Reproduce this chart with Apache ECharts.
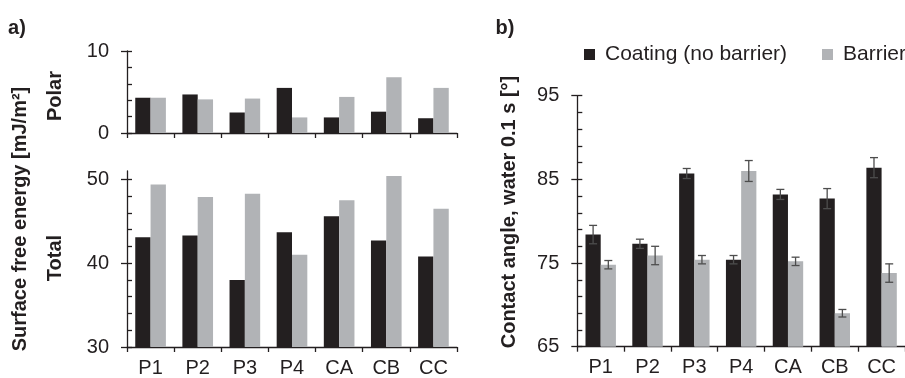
<!DOCTYPE html>
<html>
<head>
<meta charset="utf-8">
<script src="https://cdn.jsdelivr.net/npm/echarts@6/dist/echarts.min.js"></script>
<style>
  html, body { margin: 0; padding: 0; background: #fff; }
  #chart { width: 905px; height: 378px; }
</style>
</head>
<body>
<div id="chart"></div>
<script>
(function () {
    'use strict';

    // data
    var categories = ['P1', 'P2', 'P3', 'P4', 'CA', 'CB', 'CC'];
    var polarCoating = [4.3, 4.7, 2.5, 5.5, 1.9, 2.6, 1.8];
    var polarBarrier = [4.3, 4.1, 4.2, 1.9, 4.4, 6.8, 5.5];
    var totalCoating = [43.1, 43.3, 38.0, 43.7, 45.6, 42.7, 40.8];
    var totalBarrier = [49.4, 47.9, 48.3, 41.0, 47.5, 50.4, 46.5];
    var angleCoating = [78.4, 77.3, 85.7, 75.4, 83.2, 82.7, 86.4];
    var angleBarrier = [74.8, 75.9, 75.4, 86.0, 75.2, 69.0, 73.8];
    var angleCoatingErr = [1.1, 0.55, 0.6, 0.5, 0.6, 1.2, 1.2];
    var angleBarrierErr = [0.5, 1.1, 0.5, 1.25, 0.5, 0.45, 1.1];

    var polarTicks = [0, 10];
    var totalTicks = [30, 40, 50];
    var angleTicks = [65, 75, 85, 95];

    var names = ['Coating (no barrier)', 'Barrier'];
    var dark = '#231f20';
    var grey = '#b1b3b6';
    var font = "'Liberation Sans', Arial, sans-serif";

    function every(a, b, step) {
        var out = [];
        for (var v = a; v <= b + 1e-9; v += step) out.push(v);
        return out;
    }

    var grids = [
        { left: 127, top: 51, width: 330, height: 82 },
        { left: 127, top: 171, width: 330, height: 176.8 },
        { left: 577.3, top: 95.7, width: 330.6, height: 251 }
    ];

    var xAxes = [], yAxes = [];
    [0, 1, 2].forEach(function (g) {
        xAxes.push({
            type: 'category', gridIndex: g, data: categories,
            axisLine: { lineStyle: { color: dark, width: 1.3 } },
            axisTick: { show: true, interval: 0, length: 5, lineStyle: { color: dark, width: 1.3 } },
            axisLabel: { show: g !== 0, interval: 0, margin: 11, fontSize: 20, color: dark, fontFamily: font }
        });
    });

    var yRanges = [[0, 10, polarTicks], [30, 51, totalTicks], [65, 95, angleTicks]];
    yRanges.forEach(function (r, g) {
        // labelled axis with outside ticks
        yAxes.push({
            type: 'value', gridIndex: g, min: r[0], max: r[1],
            splitLine: { show: false },
            axisLine: { show: true, lineStyle: { color: dark, width: 1.3 } },
            axisTick: { show: true, length: 6, customValues: r[2], lineStyle: { color: dark, width: 1.3 } },
            axisLabel: { margin: 18, fontSize: 20, color: dark, fontFamily: font, customValues: r[2] }
        });
        // overlay for the inside minor ticks
        yAxes.push({
            type: 'value', gridIndex: g, min: r[0], max: r[1], position: 'left',
            splitLine: { show: false },
            axisLine: { show: false },
            axisTick: { show: true, inside: true, length: 5, customValues: every(r[0], r[2][r[2].length - 1], 2), lineStyle: { color: dark, width: 1.3 } },
            axisLabel: { show: false }
        });
    });

    function bar(name, g, data, color) {
        return {
            type: 'bar', name: name, xAxisIndex: g, yAxisIndex: g * 2, data: data,
            barGap: '0%', barCategoryGap: '35%',
            itemStyle: { color: color }, silent: true
        };
    }

    function errData(vals, errs) {
        return vals.map(function (v, i) { return [i, v - errs[i], v + errs[i]]; });
    }

    function errSeries(vals, errs, side) {
        return {
            type: 'custom', xAxisIndex: 2, yAxisIndex: 4, z: 5, silent: true,
            data: errData(vals, errs),
            renderItem: function (params, api) {
                var i = api.value(0);
                var hi = api.coord([i, api.value(2)]);
                var lo = api.coord([i, api.value(1)]);
                var bw = api.size([1, 0])[0];
                var x = hi[0] + side * bw * 0.65 / 4;
                var cap = 4;
                var st = { stroke: '#4d4d4d', lineWidth: 1.3 };
                return {
                    type: 'group',
                    children: [
                        { type: 'line', shape: { x1: x, y1: hi[1], x2: x, y2: lo[1] }, style: st },
                        { type: 'line', shape: { x1: x - cap, y1: hi[1], x2: x + cap, y2: hi[1] }, style: st },
                        { type: 'line', shape: { x1: x - cap, y1: lo[1], x2: x + cap, y2: lo[1] }, style: st }
                    ]
                };
            }
        };
    }

    function label(text, x, y, rot) {
        return {
            type: 'text', x: x, y: y, rotation: rot || 0,
            style: {
                text: text, fill: dark, font: 'bold 20px ' + font,
                textAlign: 'center', textVerticalAlign: 'middle'
            }
        };
    }

    function legendItem(name, left) {
        return {
            data: [name], left: left, top: 44, padding: 0, icon: 'rect',
            itemWidth: 11, itemHeight: 11, selectedMode: false,
            textStyle: { fontSize: 21, color: dark, fontFamily: font, overflow: 'none', padding: [0, 0, 0, 5] }
        };
    }

    var option = {
        animation: false,
        backgroundColor: '#fff',
        grid: grids,
        xAxis: xAxes,
        yAxis: yAxes,
        legend: [legendItem(names[0], 584), legendItem(names[1], 822)],
        graphic: [
            label('a)', 17, 28),
            label('b)', 505, 28),
            label('Surface free energy [mJ/m\u00b2]', 20, 219, Math.PI / 2),
            label('Polar', 55, 96, Math.PI / 2),
            label('Total', 55, 258, Math.PI / 2),
            label('Contact angle, water 0.1 s [\u00b0]', 509, 212, Math.PI / 2)
        ],
        series: [
            bar(names[0], 0, polarCoating, dark),
            bar(names[1], 0, polarBarrier, grey),
            bar(names[0], 1, totalCoating, dark),
            bar(names[1], 1, totalBarrier, grey),
            bar(names[0], 2, angleCoating, dark),
            bar(names[1], 2, angleBarrier, grey),
            errSeries(angleCoating, angleCoatingErr, -1),
            errSeries(angleBarrier, angleBarrierErr, 1)
        ]
    };

    var myChart = echarts.init(document.getElementById('chart'));
    myChart.setOption(option);
})();
</script>
</body>
</html>
